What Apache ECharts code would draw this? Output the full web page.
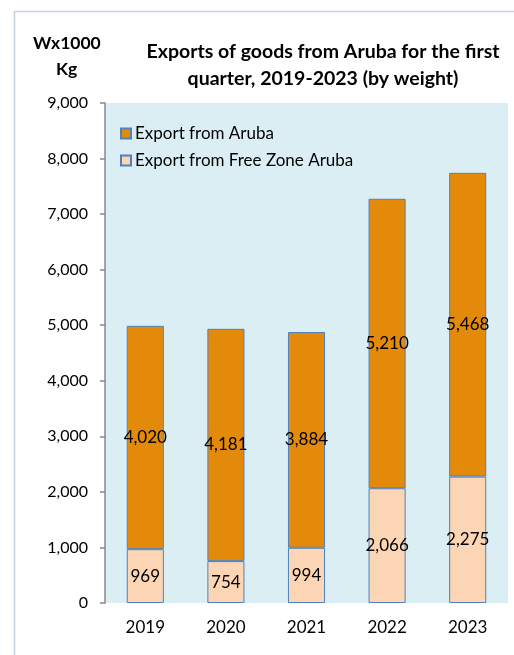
<!DOCTYPE html>
<html>
<head>
<meta charset="utf-8">
<title>Exports of goods from Aruba</title>
<script src="https://cdn.jsdelivr.net/npm/echarts@6/dist/echarts.min.js"></script>
<style>
  html, body { margin: 0; padding: 0; background: #fff; }
  #chart { width: 514px; height: 655px; }
</style>
</head>
<body>
<div id="chart"></div>
<script>
// data
const years = ['2019', '2020', '2021', '2022', '2023']
const freeZone = [969, 754, 994, 2066, 2275]
const aruba = [4020, 4181, 3884, 5210, 5468]
const seriesNames = ['Export from Aruba', 'Export from Free Zone Aruba']

const FONT = 'Lato, "Open Sans", sans-serif'
const fmt = (v) => v.toLocaleString('en-US')

const chart = echarts.init(document.getElementById('chart'))

const barLabel = {
  show: true,
  position: 'inside',
  color: '#000',
  fontFamily: FONT,
  fontSize: 17,
  formatter: (p) => fmt(p.value),
}

chart.setOption({
  backgroundColor: '#fff',
  animation: false,
  graphic: [
    {
      // outer frame of the chart object
      type: 'rect',
      shape: { x: 14.5, y: 11.5, width: 520, height: 700 },
      style: { fill: 'none', stroke: '#c3d3e6', lineWidth: 1.5 },
      silent: true,
    },
    {
      type: 'text',
      left: 33,
      top: 34,
      style: {
        text: 'Wx1000',
        font: 'bold 17.5px ' + FONT,
        fill: '#000',
      },
    },
    {
      type: 'text',
      left: 56,
      top: 60,
      style: {
        text: 'Kg',
        font: 'bold 17.5px ' + FONT,
        fill: '#000',
      },
    },
  ],
  title: {
    text: 'Exports of goods from Aruba for the first\nquarter, 2019-2023 (by weight)',
    left: 318,
    top: 33,
    textAlign: 'center',
    textStyle: {
      fontFamily: FONT,
      fontSize: 19.5,
      fontWeight: 'bold',
      color: '#000',
      lineHeight: 27,
    },
  },
  legend: {
    orient: 'vertical',
    left: 115,
    top: 120,
    itemGap: 10,
    itemWidth: 10,
    itemHeight: 10,
    icon: 'rect',
    data: seriesNames,
    textStyle: { fontFamily: FONT, fontSize: 17, color: '#000', padding: [0, 0, 0, -1] },
  },
  grid: {
    left: 105,
    right: 6,
    top: 103,
    bottom: 52,
    show: true,
    backgroundColor: '#dbeef4',
    borderWidth: 0,
  },
  xAxis: {
    type: 'category',
    data: years,
    axisLine: { show: false },
    axisTick: { show: false },
    axisLabel: { color: '#000', fontFamily: FONT, fontSize: 17, margin: 16 },
  },
  yAxis: {
    type: 'value',
    min: 0,
    max: 9000,
    interval: 1000,
    splitLine: { show: false },
    axisLine: { show: true, lineStyle: { color: '#888', width: 1.5 } },
    axisTick: { show: true, inside: false, length: 5, lineStyle: { color: '#888', width: 1.5 } },
    axisLabel: {
      color: '#000',
      fontFamily: FONT,
      fontSize: 16,
      margin: 17,
      formatter: (v) => fmt(v),
    },
  },
  series: [
    {
      name: seriesNames[1],
      type: 'bar',
      stack: 'total',
      data: freeZone,
      barWidth: '46%',
      itemStyle: { color: '#fcd5b4', borderColor: '#4f81bd', borderWidth: 1 },
      label: barLabel,
    },
    {
      name: seriesNames[0],
      type: 'bar',
      stack: 'total',
      data: aruba,
      barWidth: '46%',
      itemStyle: { color: '#e48a0b', borderColor: '#4f81bd', borderWidth: 1 },
      label: barLabel,
    },
  ],
})
</script>
</body>
</html>
